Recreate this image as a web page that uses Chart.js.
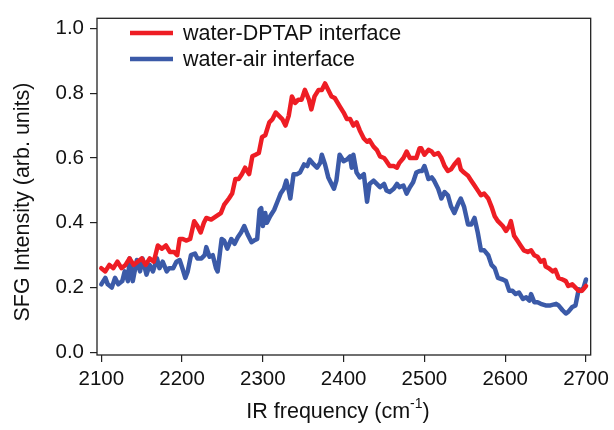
<!DOCTYPE html>
<html>
<head>
<meta charset="utf-8">
<script src="https://cdn.jsdelivr.net/npm/chart.js@4.4.1/dist/chart.umd.min.js"></script>
<style>
  html, body { margin: 0; padding: 0; background: #ffffff; }
  #wrap { width: 614px; height: 430px; position: relative; }
</style>
</head>
<body>
<div id="wrap"><canvas id="c" width="614" height="430"></canvas></div>
<script>
// ---- data ----
const seriesLabels = ['water-DPTAP interface', 'water-air interface'];
const xTitle = ['IR frequency (cm', '-1', ')'];
const yTitle = 'SFG Intensity (arb. units)';
const xTicks = [2100, 2200, 2300, 2400, 2500, 2600, 2700];
const yTicks = [0.0, 0.2, 0.4, 0.6, 0.8, 1.0];

const dptapX = [2100,2105,2110,2115,2120,2125,2130,2135,2140,2145,2150,2155,2160,2165,2170,2175,2180,2185,2190,2194,2197,2201,2205,2210,2215,2219,2223,2227,2230,2236,2242,2248,2252,2258,2262,2266,2270,2274,2278,2283,2287,2291,2295,2299,2303,2308,2312,2316,2320,2324,2328,2332,2336,2340,2344,2348,2352,2357,2360,2364,2369,2373,2377,2381,2385,2389,2395,2400,2404,2408,2412,2416,2420,2425,2429,2432,2437,2441,2445,2450,2453,2457,2462,2466,2469,2474,2478,2482,2486,2490,2494,2496,2500,2505,2509,2512,2517,2521,2525,2529,2533,2537,2542,2545,2549,2554,2558,2562,2566,2570,2574,2579,2583,2587,2591,2597,2601,2605,2607,2611,2615,2619,2623,2628,2632,2636,2640,2644,2648,2650,2654,2659,2662,2666,2671,2675,2678,2683,2687,2691,2695,2700];
const dptapY = [0.26,0.25,0.27,0.26,0.28,0.26,0.27,0.29,0.27,0.28,0.29,0.27,0.29,0.28,0.33,0.32,0.33,0.31,0.31,0.30,0.35,0.35,0.345,0.35,0.405,0.39,0.37,0.40,0.415,0.41,0.42,0.43,0.455,0.475,0.49,0.535,0.535,0.55,0.57,0.55,0.605,0.61,0.615,0.665,0.67,0.71,0.72,0.74,0.73,0.72,0.70,0.73,0.79,0.77,0.78,0.78,0.81,0.78,0.75,0.79,0.81,0.81,0.83,0.81,0.79,0.785,0.76,0.74,0.72,0.72,0.70,0.71,0.685,0.66,0.65,0.655,0.635,0.625,0.605,0.60,0.59,0.575,0.575,0.57,0.585,0.60,0.62,0.60,0.60,0.60,0.63,0.63,0.61,0.625,0.62,0.61,0.615,0.60,0.575,0.56,0.565,0.58,0.595,0.565,0.555,0.545,0.53,0.515,0.50,0.485,0.49,0.475,0.45,0.42,0.405,0.39,0.375,0.39,0.405,0.36,0.345,0.33,0.315,0.31,0.315,0.30,0.295,0.28,0.285,0.265,0.26,0.25,0.255,0.23,0.225,0.22,0.205,0.21,0.20,0.19,0.19,0.205];

const airX = [2100,2105,2108,2113,2117,2121,2126,2129,2133,2135,2139,2144,2148,2151,2156,2160,2164,2169,2172,2176,2181,2184,2189,2193,2197,2201,2204,2207,2211,2216,2219,2224,2228,2230,2234,2238,2242,2244,2249,2252,2256,2261,2265,2269,2273,2277,2281,2286,2289,2293,2296,2298,2300,2303,2305,2309,2314,2318,2322,2326,2329,2332,2334,2338,2342,2346,2351,2355,2358,2363,2367,2371,2373,2377,2381,2385,2388,2391,2395,2400,2404,2408,2410,2412,2416,2420,2425,2429,2432,2437,2441,2445,2450,2453,2457,2462,2466,2469,2474,2478,2482,2486,2490,2494,2497,2500,2502,2505,2509,2512,2517,2521,2525,2529,2533,2537,2542,2545,2549,2554,2558,2562,2566,2570,2574,2579,2583,2587,2591,2597,2601,2605,2609,2613,2617,2622,2626,2630,2632,2636,2640,2644,2650,2656,2663,2666,2671,2675,2678,2683,2687,2691,2694,2697,2700];
const airY = [0.21,0.23,0.21,0.20,0.23,0.21,0.22,0.25,0.22,0.29,0.22,0.285,0.25,0.29,0.24,0.27,0.25,0.29,0.26,0.28,0.25,0.26,0.26,0.28,0.285,0.255,0.23,0.25,0.30,0.305,0.29,0.29,0.30,0.325,0.295,0.30,0.26,0.25,0.35,0.345,0.32,0.35,0.335,0.355,0.37,0.39,0.365,0.34,0.345,0.35,0.44,0.445,0.39,0.43,0.40,0.42,0.44,0.465,0.49,0.505,0.53,0.50,0.475,0.55,0.55,0.555,0.58,0.575,0.595,0.58,0.57,0.585,0.61,0.58,0.54,0.52,0.505,0.53,0.61,0.59,0.595,0.605,0.57,0.61,0.555,0.54,0.55,0.465,0.52,0.53,0.52,0.51,0.52,0.50,0.495,0.505,0.52,0.51,0.515,0.49,0.51,0.525,0.555,0.56,0.56,0.575,0.56,0.535,0.54,0.53,0.505,0.475,0.495,0.485,0.45,0.43,0.46,0.475,0.45,0.395,0.395,0.415,0.37,0.315,0.315,0.30,0.27,0.26,0.23,0.225,0.22,0.19,0.19,0.18,0.185,0.165,0.17,0.16,0.18,0.155,0.155,0.15,0.145,0.145,0.15,0.145,0.13,0.12,0.125,0.14,0.145,0.195,0.19,0.20,0.225];

const colors = ['#ee1d24', '#3b5aa8'];

function pts(xs, ys) { return xs.map((x, i) => ({ x: x, y: ys[i] })); }

const FONT = "'Liberation Sans', Arial, Helvetica, sans-serif";
const TITLE_SIZE = 21.5;

const decor = {
  id: 'decor',
  afterDraw(chart) {
    const { ctx, chartArea: a } = chart;
    ctx.save();
    ctx.strokeStyle = '#222';
    ctx.lineWidth = 1.3;
    ctx.strokeRect(a.left, a.top, a.right - a.left, a.bottom - a.top);
    // legend
    ctx.font = TITLE_SIZE + 'px ' + FONT;
    ctx.textBaseline = 'middle';
    ctx.textAlign = 'left';
    const rows = [33, 59];
    chart.data.datasets.forEach((ds, i) => {
      ctx.strokeStyle = ds.borderColor;
      ctx.lineWidth = 4.5;
      ctx.beginPath();
      ctx.moveTo(130, rows[i]);
      ctx.lineTo(173, rows[i]);
      ctx.stroke();
      ctx.fillStyle = '#111';
      ctx.fillText(ds.label, 183, rows[i] + 1);
    });
    // x title with superscript
    const y = 412;
    ctx.font = TITLE_SIZE + 'px ' + FONT;
    const w1 = ctx.measureText(xTitle[0]).width, w3 = ctx.measureText(xTitle[2]).width;
    ctx.font = '14px ' + FONT;
    const w2 = ctx.measureText(xTitle[1]).width;
    const total = w1 + w2 + w3;
    let x = 338 - total / 2;
    ctx.fillStyle = '#111';
    ctx.font = TITLE_SIZE + 'px ' + FONT;
    ctx.fillText(xTitle[0], x, y);
    ctx.font = '14px ' + FONT;
    ctx.fillText(xTitle[1], x + w1, y - 8);
    ctx.font = TITLE_SIZE + 'px ' + FONT;
    ctx.fillText(xTitle[2], x + w1 + w2, y);
    // y title
    ctx.translate(23, 202);
    ctx.rotate(-Math.PI / 2);
    ctx.textAlign = 'center';
    ctx.textBaseline = 'middle';
    ctx.fillText(yTitle, 0, 0);
    ctx.restore();
  }
};

new Chart(document.getElementById('c'), {
  type: 'line',
  data: {
    datasets: [
      { label: seriesLabels[0], data: pts(dptapX, dptapY), borderColor: colors[0], borderWidth: 4.5, borderJoinStyle: 'round', borderCapStyle: 'round', pointRadius: 0, tension: 0, fill: false },
      { label: seriesLabels[1], data: pts(airX, airY), borderColor: colors[1], borderWidth: 4.5, borderJoinStyle: 'round', borderCapStyle: 'round', pointRadius: 0, tension: 0, fill: false }
    ]
  },
  options: {
    responsive: false,
    animation: false,
    events: [],
    layout: { padding: { top: 11, right: 21, left: 0, bottom: 0 } },
    plugins: { legend: { display: false }, tooltip: { enabled: false } },
    scales: {
      x: {
        type: 'linear',
        min: 2094.7, max: 2705.8,
        afterBuildTicks(s) { s.ticks = xTicks.map(v => ({ value: v })); },
        afterFit(s) { s.height = 75; },
        grid: { drawOnChartArea: false, drawTicks: true, tickLength: 7, color: '#222', lineWidth: 1.2 },
        border: { display: false },
        ticks: { color: '#111', font: { family: FONT, size: 20.5 }, padding: 5, maxRotation: 0, callback: v => String(v) }
      },
      y: {
        type: 'linear',
        min: -0.008, max: 1.031,
        afterBuildTicks(s) { s.ticks = yTicks.map(v => ({ value: v })); },
        afterFit(s) { s.width = 97; },
        grid: { drawOnChartArea: false, drawTicks: true, tickLength: 7, color: '#222', lineWidth: 1.2 },
        border: { display: false },
        ticks: { color: '#111', font: { family: FONT, size: 20.5 }, padding: 6, callback: v => v.toFixed(1) }
      }
    }
  },
  plugins: [decor]
});
</script>
</body>
</html>
